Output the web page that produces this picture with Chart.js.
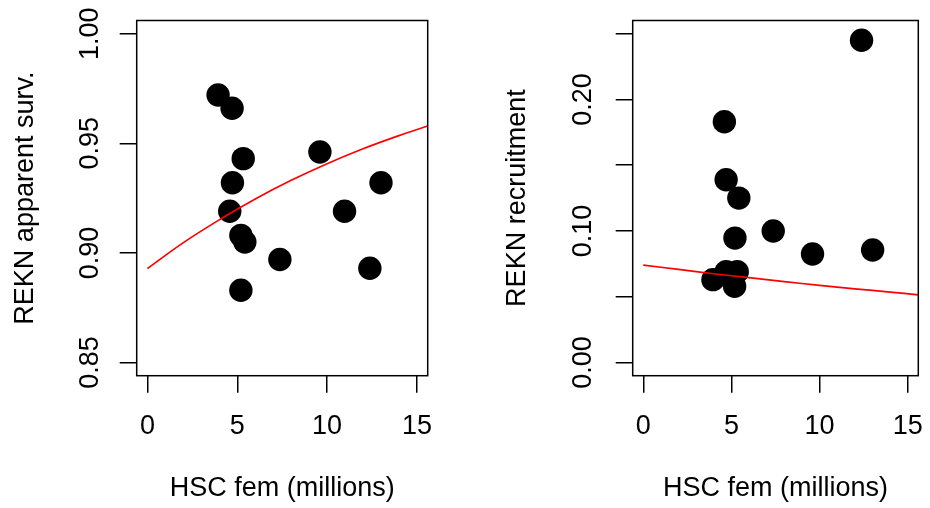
<!DOCTYPE html>
<html><head><meta charset="utf-8">
<script src="https://cdn.jsdelivr.net/npm/chart.js@4/dist/chart.umd.min.js"></script>
<style>html,body{margin:0;padding:0;background:#fff;overflow:hidden;} canvas{position:absolute;top:0;}</style>
</head><body>
<canvas id="c1" width="465" height="508" style="left:0px"></canvas>
<canvas id="c2" width="465" height="508" style="left:465px"></canvas>
<script>
// ---- data ----
const survX = [3.93, 4.58, 4.71, 4.73, 5.20, 5.20, 5.33, 5.42, 7.37, 9.60, 10.97, 12.38, 13.00];
const survY = [0.972, 0.919, 0.966, 0.932, 0.908, 0.883, 0.943, 0.905, 0.897, 0.946, 0.919, 0.893, 0.932];

const recrX = [3.95, 4.60, 4.70, 4.70, 5.18, 5.20, 5.33, 5.42, 7.37, 9.60, 12.38, 13.01];
const recrY = [0.063, 0.183, 0.139, 0.069, 0.058, 0.0946, 0.069, 0.125, 0.100, 0.0825, 0.245, 0.0855];

// fitted curves
const survCurveX = [0, 2, 4, 6, 8, 10, 12, 14, 15.6];
const survCurveY = [0.8929, 0.9047, 0.9151, 0.9246, 0.9331, 0.9407, 0.9475, 0.9535, 0.9579];
const recrCurveX = [0, 2, 4, 6, 8, 10, 12, 14, 15.6];
const recrCurveY = [0.0741, 0.0708, 0.0675, 0.0645, 0.0615, 0.0587, 0.0560, 0.0536, 0.0514];

// tick labels
const xTickLabels = ['0', '5', '10', '15'];
const survTickLabels = ['0.85', '0.90', '0.95', '1.00'];
const recrTickLabels = ['0.00', '0.10', '0.20'];

const xTitle = 'HSC fem (millions)';
const survTitle = 'REKN apparent surv.';
const recrTitle = 'REKN recruitment';

Chart.defaults.font.family = '"Liberation Sans", Arial, Helvetica, sans-serif';
Chart.defaults.color = '#000';

const FS = 27;

const boxPlugin = {
  id: 'box',
  afterDraw(chart) {
    const a = chart.chartArea, ctx = chart.ctx;
    ctx.save();
    ctx.strokeStyle = '#000';
    ctx.lineWidth = 1.5;
    ctx.strokeRect(a.left, a.top, a.right - a.left, a.bottom - a.top);
    ctx.restore();
  }
};

function labelFrom(list) {
  return function (v) {
    for (const s of list) if (Math.abs(Number(s) - v) < 1e-6) return s;
    return '';
  };
}

function makePanel(id, px, py, cx, cy, yMin, yMax, yLabels, yTitle, L) {
  const pts = px.map((x, i) => ({x: x, y: py[i]}));
  const curve = cx.map((x, i) => ({x: x, y: cy[i]}));
  new Chart(document.getElementById(id), {
    type: 'scatter',
    data: {
      datasets: [
        {data: curve, showLine: true, borderColor: '#FF0000', borderWidth: 1.7,
         pointRadius: 0, pointHoverRadius: 0, fill: false, tension: 0.4, order: 0},
        {data: pts, pointRadius: 11.7, pointHoverRadius: 11.7, pointBackgroundColor: '#000',
         pointBorderWidth: 0, borderWidth: 0, backgroundColor: '#000', order: 1}
      ]
    },
    options: {
      responsive: false, animation: false, devicePixelRatio: 1,
      layout: {padding: {top: L.top, right: L.right, left: 0, bottom: 0}},
      plugins: {legend: {display: false}, tooltip: {enabled: false}},
      scales: {
        x: {
          type: 'linear', position: 'bottom', min: -0.6, max: 15.6,
          ticks: {stepSize: 5, includeBounds: false, padding: L.xTickPad, maxRotation: 0, minRotation: 0,
                  font: {size: FS}, color: '#000', callback: labelFrom(xTickLabels)},
          grid: {display: true, drawOnChartArea: false, drawTicks: true, tickLength: 17, color: '#000', lineWidth: 1.5},
          border: {display: false},
          title: {display: true, text: xTitle, font: {size: FS}, color: '#000', padding: {top: 0, bottom: L.xTitlePad}},
          afterFit(s) { s.height = L.xH; s.paddingLeft = 0; s.paddingRight = 0; }
        },
        y: {
          type: 'linear', position: 'left', min: yMin, max: yMax,
          ticks: {stepSize: 0.05, includeBounds: false, padding: L.yTickPad, minRotation: 90, maxRotation: 90,
                  crossAlign: 'center', font: {size: FS}, color: '#000', callback: labelFrom(yLabels)},
          grid: {display: true, drawOnChartArea: false, drawTicks: true, tickLength: 17, color: '#000', lineWidth: 1.5},
          border: {display: false},
          title: {display: true, text: yTitle, font: {size: FS}, color: '#000', padding: {top: L.yTitlePad, bottom: 0}},
          afterFit(s) { s.width = L.yW; s.paddingTop = 0; s.paddingBottom = 0; }
        }
      }
    },
    plugins: [boxPlugin]
  });
}

makePanel('c1', survX, survY, survCurveX, survCurveY, 0.844, 1.006, survTickLabels, survTitle,
  {top: 20.5, right: 37.3, xH: 132.3, yW: 136.7, xTickPad: 18, xTitlePad: 3, yTickPad: 3.1, yTitlePad: 9.4});
makePanel('c2', recrX, recrY, recrCurveX, recrCurveY, -0.01, 0.26, recrTickLabels, recrTitle,
  {top: 20.5, right: 6, xH: 132.3, yW: 167.7, xTickPad: 18, xTitlePad: 3, yTickPad: 5.5, yTitlePad: 36.1});
</script>
</body></html>
